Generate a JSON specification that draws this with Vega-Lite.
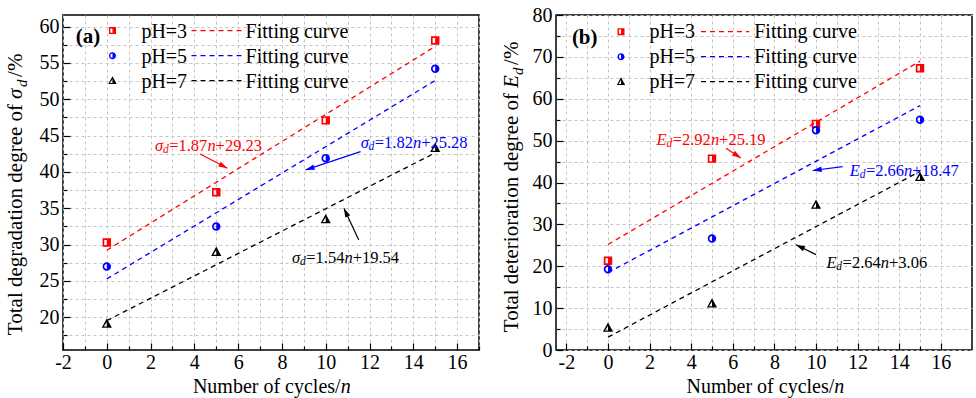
{
  "$schema": "https://vega.github.io/schema/vega-lite/v6.json",
  "padding": {"left": 4, "top": 4, "right": 0, "bottom": 0},
  "bounds": "flush",
  "spacing": 77,
  "config": {
    "font": "Liberation Serif",
    "view": {"stroke": "black", "strokeWidth": 1.5},
    "legend": {"disable": true},
    "axis": {
      "labelFont": "Liberation Serif",
      "labelFontSize": 20,
      "labelColor": "black",
      "tickColor": "black",
      "tickWidth": 1.2,
      "tickCount": 100,
      "gridColor": "#c4c4c4",
      "gridDash": [3, 3],
      "gridWidth": 1,
      "domain": false,
      "grid": true,
      "labelFlush": false,
      "labelOverlap": false
    }
  },
  "datasets": {
    "one": [{}],
    "pts": [
      {"panel": "a", "ph": "pH=3", "n": 0, "v": 30.3},
      {"panel": "a", "ph": "pH=3", "n": 5, "v": 37.2},
      {"panel": "a", "ph": "pH=3", "n": 10, "v": 47.1},
      {"panel": "a", "ph": "pH=3", "n": 15, "v": 58.1},
      {"panel": "a", "ph": "pH=5", "n": 0, "v": 27.0},
      {"panel": "a", "ph": "pH=5", "n": 5, "v": 32.5},
      {"panel": "a", "ph": "pH=5", "n": 10, "v": 41.9},
      {"panel": "a", "ph": "pH=5", "n": 15, "v": 54.2},
      {"panel": "a", "ph": "pH=7", "n": 0, "v": 19.1},
      {"panel": "a", "ph": "pH=7", "n": 5, "v": 29.0},
      {"panel": "a", "ph": "pH=7", "n": 10, "v": 33.5},
      {"panel": "a", "ph": "pH=7", "n": 15, "v": 43.3},
      {"panel": "b", "ph": "pH=3", "n": 0, "v": 21.3},
      {"panel": "b", "ph": "pH=3", "n": 5, "v": 45.7},
      {"panel": "b", "ph": "pH=3", "n": 10, "v": 54.0},
      {"panel": "b", "ph": "pH=3", "n": 15, "v": 67.3},
      {"panel": "b", "ph": "pH=5", "n": 0, "v": 19.3},
      {"panel": "b", "ph": "pH=5", "n": 5, "v": 26.6},
      {"panel": "b", "ph": "pH=5", "n": 10, "v": 52.5},
      {"panel": "b", "ph": "pH=5", "n": 15, "v": 55.0},
      {"panel": "b", "ph": "pH=7", "n": 0, "v": 5.3},
      {"panel": "b", "ph": "pH=7", "n": 5, "v": 11.1},
      {"panel": "b", "ph": "pH=7", "n": 10, "v": 34.7},
      {"panel": "b", "ph": "pH=7", "n": 15, "v": 41.3}
    ],
    "fit": [
      {"panel": "a", "ph": "pH=3", "n": 0, "v": 29.23},
      {"panel": "a", "ph": "pH=3", "n": 15, "v": 57.28},
      {"panel": "a", "ph": "pH=5", "n": 0, "v": 25.28},
      {"panel": "a", "ph": "pH=5", "n": 15, "v": 52.58},
      {"panel": "a", "ph": "pH=7", "n": 0, "v": 19.54},
      {"panel": "a", "ph": "pH=7", "n": 15, "v": 42.64},
      {"panel": "b", "ph": "pH=3", "n": 0, "v": 25.19},
      {"panel": "b", "ph": "pH=3", "n": 15, "v": 68.99},
      {"panel": "b", "ph": "pH=5", "n": 0, "v": 18.47},
      {"panel": "b", "ph": "pH=5", "n": 15, "v": 58.37},
      {"panel": "b", "ph": "pH=7", "n": 0, "v": 3.06},
      {"panel": "b", "ph": "pH=7", "n": 15, "v": 42.66}
    ],
    "ann": [
      {"panel": "a", "ph": "pH=3", "sym": "σ", "eq": "=1.87", "rest": "+29.23", "x": 2.85, "y": 43.51},
      {"panel": "a", "ph": "pH=5", "sym": "σ", "eq": "=1.82", "rest": "+25.28", "x": 12.24, "y": 43.95},
      {"panel": "a", "ph": "pH=7", "sym": "σ", "eq": "=1.54", "rest": "+19.54", "x": 9.11, "y": 28.16},
      {"panel": "b", "ph": "pH=3", "sym": "E", "eq": "=2.92", "rest": "+25.19", "x": 3.11, "y": 50.19},
      {"panel": "b", "ph": "pH=5", "sym": "E", "eq": "=2.66", "rest": "+18.47", "x": 12.4, "y": 42.63},
      {"panel": "b", "ph": "pH=7", "sym": "E", "eq": "=2.64", "rest": "+3.06", "x": 11.28, "y": 20.79}
    ],
    "arr": [
      {"panel": "a", "ph": "pH=3", "x": 4.26, "y": 42.48, "x2": 5.51, "y2": 40.51},
      {"panel": "a", "ph": "pH=5", "x": 11.59, "y": 42.79, "x2": 9.08, "y2": 40.28},
      {"panel": "a", "ph": "pH=7", "x": 11.51, "y": 30.64, "x2": 10.83, "y2": 35.0},
      {"panel": "b", "ph": "pH=3", "x": 5.67, "y": 48.2, "x2": 6.39, "y2": 45.83},
      {"panel": "b", "ph": "pH=5", "x": 11.28, "y": 43.8, "x2": 9.84, "y2": 42.87},
      {"panel": "b", "ph": "pH=7", "x": 10.0, "y": 22.77, "x2": 9.04, "y2": 25.15}
    ]
  },
  "hconcat": [
    {
      "width": 416,
      "height": 335,
      "layer": [
        {
          "data": {"name": "fit"},
          "transform": [{"filter": "datum.panel === 'a'"}],
          "mark": {"type": "line", "strokeDash": [5, 4], "strokeWidth": 1.3},
          "encoding": {
            "x": {"field": "n", "type": "quantitative",
              "scale": {"domain": [-2, 17], "nice": false, "zero": false},
              "axis": {"title": null, "tickCount": 100,
                "values": [-2, -1, 0, 1, 2, 3, 4, 5, 6, 7, 8, 9, 10, 11, 12, 13, 14, 15, 16, 17],
                "labelExpr": "datum.value % 2 === 0 ? (datum.value < 0 ? '-' + abs(datum.value) : format(datum.value, 'd')) : ''",
                "tickSize": {"condition": {"test": "datum.value % 2 === 0", "value": -7}, "value": -4},
                "labelPadding": 9}},
            "y": {"field": "v", "type": "quantitative",
              "scale": {"domain": [15.5, 61.6], "nice": false, "zero": false},
              "axis": {"title": null, "tickCount": 100,
                "values": [17.5, 20, 22.5, 25, 27.5, 30, 32.5, 35, 37.5, 40, 42.5, 45, 47.5, 50, 52.5, 55, 57.5, 60],
                "labelExpr": "abs(datum.value % 5) < 0.01 ? format(datum.value, 'd') : ''",
                "tickSize": {"condition": {"test": "abs(datum.value % 5) < 0.01", "value": -7}, "value": -4},
                "labelPadding": 11}},
            "color": {"field": "ph", "type": "nominal",
              "scale": {"domain": ["pH=3", "pH=5", "pH=7"], "range": ["#ff0000", "#0000ff", "#000000"]}}
          }
        },
        {
          "data": {"name": "pts"},
          "transform": [{"filter": "datum.panel === 'a'"}],
          "mark": {"type": "point", "filled": true, "opacity": 1, "size": 72, "strokeWidth": 0},
          "encoding": {
            "x": {"field": "n", "type": "quantitative"},
            "y": {"field": "v", "type": "quantitative"},
            "color": {"field": "ph", "type": "nominal"},
            "shape": {"field": "ph", "type": "nominal",
              "scale": {"domain": ["pH=3", "pH=5", "pH=7"],
                "range": ["M-1,-1H1V1H-1Z M-0.6,-0.6V0.6H0V-0.6Z",
                  "M1,0A1,1,0,1,1,-1,0A1,1,0,1,1,1,0Z M0,-0.6A0.6,0.6,0,0,0,0,0.6Z",
                  "M0,-1.25L1.2,0.95L-1.2,0.95Z M0,-0.45L-0.7,0.65L0,0.65Z"]}}
          }
        },
        {
          "data": {"name": "arr"},
          "transform": [{"filter": "datum.panel === 'a'"}],
          "mark": {"type": "rule", "strokeWidth": 1.2},
          "encoding": {
            "x": {"field": "x", "type": "quantitative"},
            "y": {"field": "y", "type": "quantitative"},
            "x2": {"field": "x2"},
            "y2": {"field": "y2"},
            "color": {"field": "ph", "type": "nominal"}
          }
        },
        {
          "data": {"name": "one"},
          "mark": {"type": "point", "shape": "M0,0L-3.6,-1.1L-3.6,1.1Z", "filled": true, "opacity": 1, "size": 25, "strokeWidth": 0, "angle": 27.6, "color": "#ff0000"},
          "encoding": {"x": {"datum": 5.51}, "y": {"datum": 40.51}}
        },
        {
          "data": {"name": "one"},
          "mark": {"type": "point", "shape": "M0,0L-3.6,-1.1L-3.6,1.1Z", "filled": true, "opacity": 1, "size": 25, "strokeWidth": 0, "angle": 161.6, "color": "#0000ff"},
          "encoding": {"x": {"datum": 9.08}, "y": {"datum": 40.28}}
        },
        {
          "data": {"name": "one"},
          "mark": {"type": "point", "shape": "M0,0L-3.6,-1.1L-3.6,1.1Z", "filled": true, "opacity": 1, "size": 25, "strokeWidth": 0, "angle": 244.7, "color": "#000000"},
          "encoding": {"x": {"datum": 10.83}, "y": {"datum": 35.0}}
        },
        {
          "data": {"name": "ann"},
          "transform": [{"filter": "datum.panel === 'a'"}],
          "mark": {"type": "text", "align": "right", "dx": -6, "fontSize": 16.5, "fontStyle": "italic"},
          "encoding": {
            "x": {"field": "x", "type": "quantitative"},
            "y": {"field": "y", "type": "quantitative"},
            "text": {"field": "sym"},
            "color": {"field": "ph", "type": "nominal"}
          }
        },
        {
          "data": {"name": "ann"},
          "transform": [{"filter": "datum.panel === 'a'"}],
          "mark": {"type": "text", "align": "right", "dx": -0.5, "dy": 4, "fontSize": 11.5, "fontStyle": "italic"},
          "encoding": {
            "x": {"field": "x", "type": "quantitative"},
            "y": {"field": "y", "type": "quantitative"},
            "text": {"value": "d"},
            "color": {"field": "ph", "type": "nominal"}
          }
        },
        {
          "data": {"name": "ann"},
          "transform": [{"filter": "datum.panel === 'a'"}],
          "mark": {"type": "text", "align": "left", "fontSize": 16.5},
          "encoding": {
            "x": {"field": "x", "type": "quantitative"},
            "y": {"field": "y", "type": "quantitative"},
            "text": {"field": "eq"},
            "color": {"field": "ph", "type": "nominal"}
          }
        },
        {
          "data": {"name": "ann"},
          "transform": [{"filter": "datum.panel === 'a'"}],
          "mark": {"type": "text", "align": "left", "dx": 38.2, "fontSize": 16.5, "fontStyle": "italic"},
          "encoding": {
            "x": {"field": "x", "type": "quantitative"},
            "y": {"field": "y", "type": "quantitative"},
            "text": {"value": "n"},
            "color": {"field": "ph", "type": "nominal"}
          }
        },
        {
          "data": {"name": "ann"},
          "transform": [{"filter": "datum.panel === 'a'"}],
          "mark": {"type": "text", "align": "left", "dx": 46.4, "fontSize": 16.5},
          "encoding": {
            "x": {"field": "x", "type": "quantitative"},
            "y": {"field": "y", "type": "quantitative"},
            "text": {"field": "rest"},
            "color": {"field": "ph", "type": "nominal"}
          }
        },
        {
          "data": {"name": "one"},
          "mark": {"type": "text", "align": "center", "fontSize": 21, "fontWeight": "bold", "color": "black"},
          "encoding": {"x": {"datum": -0.86}, "y": {"datum": 58.58}, "text": {"value": "(a)"}}
        },
        {
          "data": {"name": "one"},
          "mark": {"type": "point", "shape": "M-1,-1H1V1H-1Z M-0.6,-0.6V0.6H0V-0.6Z", "filled": true, "opacity": 1, "size": 49, "strokeWidth": 0, "color": "#ff0000"},
          "encoding": {"x": {"datum": 0.26}, "y": {"datum": 59.45}}
        },
        {
          "data": {"name": "one"},
          "mark": {"type": "point", "shape": "M1,0A1,1,0,1,1,-1,0A1,1,0,1,1,1,0Z M0,-0.6A0.6,0.6,0,0,0,0,0.6Z", "filled": true, "opacity": 1, "size": 49, "strokeWidth": 0, "color": "#0000ff"},
          "encoding": {"x": {"datum": 0.26}, "y": {"datum": 56.0}}
        },
        {
          "data": {"name": "one"},
          "mark": {"type": "point", "shape": "M0,-1.25L1.2,0.95L-1.2,0.95Z M0,-0.45L-0.7,0.65L0,0.65Z", "filled": true, "opacity": 1, "size": 49, "strokeWidth": 0, "color": "#000000"},
          "encoding": {"x": {"datum": 0.26}, "y": {"datum": 52.57}}
        },
        {
          "data": {"name": "one"},
          "mark": {"type": "text", "align": "left", "baseline": "alphabetic", "fontSize": 20, "lineHeight": 25, "color": "black"},
          "encoding": {"x": {"datum": 1.58}, "y": {"datum": 58.49}, "text": {"value": ["pH=3", "pH=5", "pH=7"]}}
        },
        {
          "data": {"name": "one"},
          "mark": {"type": "rule", "strokeDash": [5, 4], "strokeWidth": 1.3, "color": "#ff0000"},
          "encoding": {"x": {"datum": 3.87}, "x2": {"datum": 6.2}, "y": {"datum": 59.45}}
        },
        {
          "data": {"name": "one"},
          "mark": {"type": "rule", "strokeDash": [5, 4], "strokeWidth": 1.3, "color": "#0000ff"},
          "encoding": {"x": {"datum": 3.87}, "x2": {"datum": 6.2}, "y": {"datum": 56.0}}
        },
        {
          "data": {"name": "one"},
          "mark": {"type": "rule", "strokeDash": [5, 4], "strokeWidth": 1.3, "color": "#000000"},
          "encoding": {"x": {"datum": 3.87}, "x2": {"datum": 6.2}, "y": {"datum": 52.57}}
        },
        {
          "data": {"name": "one"},
          "mark": {"type": "text", "align": "left", "baseline": "alphabetic", "fontSize": 20, "lineHeight": 25, "color": "black"},
          "encoding": {"x": {"datum": 6.34}, "y": {"datum": 58.49}, "text": {"value": ["Fitting curve", "Fitting curve", "Fitting curve"]}}
        },
        {
          "data": {"name": "one"},
          "mark": {"type": "text", "align": "right", "baseline": "alphabetic", "fontSize": 20, "color": "black"},
          "encoding": {"x": {"datum": 10.68}, "y": {"datum": 9.58}, "text": {"value": "Number of cycles/"}}
        },
        {
          "data": {"name": "one"},
          "mark": {"type": "text", "align": "left", "baseline": "alphabetic", "fontSize": 20, "fontStyle": "italic", "color": "black"},
          "encoding": {"x": {"datum": 10.68}, "y": {"datum": 9.58}, "text": {"value": "n"}}
        },
        {
          "data": {"name": "one"},
          "mark": {"type": "text", "angle": 270, "align": "right", "baseline": "alphabetic", "fontSize": 21, "color": "black"},
          "encoding": {"x": {"datum": -3.85}, "y": {"datum": 49.36}, "text": {"value": "Total degradation degree of"}}
        },
        {
          "data": {"name": "one"},
          "mark": {"type": "text", "angle": 270, "align": "left", "baseline": "alphabetic", "dx": 5, "fontSize": 21, "fontStyle": "italic", "color": "black"},
          "encoding": {"x": {"datum": -3.85}, "y": {"datum": 49.36}, "text": {"value": "σ"}}
        },
        {
          "data": {"name": "one"},
          "mark": {"type": "text", "angle": 270, "align": "left", "baseline": "alphabetic", "dx": 17, "dy": 5, "fontSize": 15, "fontStyle": "italic", "color": "black"},
          "encoding": {"x": {"datum": -3.85}, "y": {"datum": 49.36}, "text": {"value": "d"}}
        },
        {
          "data": {"name": "one"},
          "mark": {"type": "text", "angle": 270, "align": "left", "baseline": "alphabetic", "dx": 27, "fontSize": 21, "color": "black"},
          "encoding": {"x": {"datum": -3.85}, "y": {"datum": 49.36}, "text": {"value": "/%"}}
        }
      ]
    },
    {
      "width": 416,
      "height": 335,
      "layer": [
        {
          "data": {"name": "fit"},
          "transform": [{"filter": "datum.panel === 'b'"}],
          "mark": {"type": "line", "strokeDash": [5, 4], "strokeWidth": 1.3},
          "encoding": {
            "x": {"field": "n", "type": "quantitative",
              "scale": {"domain": [-2.5, 17.5], "nice": false, "zero": false},
              "axis": {"title": null, "tickCount": 100,
                "values": [-2, -1, 0, 1, 2, 3, 4, 5, 6, 7, 8, 9, 10, 11, 12, 13, 14, 15, 16],
                "labelExpr": "datum.value % 2 === 0 ? (datum.value < 0 ? '-' + abs(datum.value) : format(datum.value, 'd')) : ''",
                "tickSize": {"condition": {"test": "datum.value % 2 === 0", "value": -7}, "value": -4},
                "labelPadding": 9}},
            "y": {"field": "v", "type": "quantitative",
              "scale": {"domain": [0, 80], "nice": false, "zero": false},
              "axis": {"title": null, "tickCount": 100,
                "values": [0, 5, 10, 15, 20, 25, 30, 35, 40, 45, 50, 55, 60, 65, 70, 75, 80],
                "labelExpr": "datum.value % 10 === 0 ? format(datum.value, 'd') : ''",
                "tickSize": {"condition": {"test": "datum.value % 10 === 0", "value": -7}, "value": -4},
                "labelPadding": 11}},
            "color": {"field": "ph", "type": "nominal",
              "scale": {"domain": ["pH=3", "pH=5", "pH=7"], "range": ["#ff0000", "#0000ff", "#000000"]}}
          }
        },
        {
          "data": {"name": "pts"},
          "transform": [{"filter": "datum.panel === 'b'"}],
          "mark": {"type": "point", "filled": true, "opacity": 1, "size": 72, "strokeWidth": 0},
          "encoding": {
            "x": {"field": "n", "type": "quantitative"},
            "y": {"field": "v", "type": "quantitative"},
            "color": {"field": "ph", "type": "nominal"},
            "shape": {"field": "ph", "type": "nominal",
              "scale": {"domain": ["pH=3", "pH=5", "pH=7"],
                "range": ["M-1,-1H1V1H-1Z M-0.6,-0.6V0.6H0V-0.6Z",
                  "M1,0A1,1,0,1,1,-1,0A1,1,0,1,1,1,0Z M0,-0.6A0.6,0.6,0,0,0,0,0.6Z",
                  "M0,-1.25L1.2,0.95L-1.2,0.95Z M0,-0.45L-0.7,0.65L0,0.65Z"]}}
          }
        },
        {
          "data": {"name": "arr"},
          "transform": [{"filter": "datum.panel === 'b'"}],
          "mark": {"type": "rule", "strokeWidth": 1.2},
          "encoding": {
            "x": {"field": "x", "type": "quantitative"},
            "y": {"field": "y", "type": "quantitative"},
            "x2": {"field": "x2"},
            "y2": {"field": "y2"},
            "color": {"field": "ph", "type": "nominal"}
          }
        },
        {
          "data": {"name": "one"},
          "mark": {"type": "point", "shape": "M0,0L-3.6,-1.1L-3.6,1.1Z", "filled": true, "opacity": 1, "size": 25, "strokeWidth": 0, "angle": 33.7, "color": "#ff0000"},
          "encoding": {"x": {"datum": 6.39}, "y": {"datum": 45.83}}
        },
        {
          "data": {"name": "one"},
          "mark": {"type": "point", "shape": "M0,0L-3.6,-1.1L-3.6,1.1Z", "filled": true, "opacity": 1, "size": 25, "strokeWidth": 0, "angle": 172.4, "color": "#0000ff"},
          "encoding": {"x": {"datum": 9.84}, "y": {"datum": 42.87}}
        },
        {
          "data": {"name": "one"},
          "mark": {"type": "point", "shape": "M0,0L-3.6,-1.1L-3.6,1.1Z", "filled": true, "opacity": 1, "size": 25, "strokeWidth": 0, "angle": 206.6, "color": "#000000"},
          "encoding": {"x": {"datum": 9.04}, "y": {"datum": 25.15}}
        },
        {
          "data": {"name": "ann"},
          "transform": [{"filter": "datum.panel === 'b'"}],
          "mark": {"type": "text", "align": "right", "dx": -6, "fontSize": 16.5, "fontStyle": "italic"},
          "encoding": {
            "x": {"field": "x", "type": "quantitative"},
            "y": {"field": "y", "type": "quantitative"},
            "text": {"field": "sym"},
            "color": {"field": "ph", "type": "nominal"}
          }
        },
        {
          "data": {"name": "ann"},
          "transform": [{"filter": "datum.panel === 'b'"}],
          "mark": {"type": "text", "align": "right", "dx": -0.5, "dy": 4, "fontSize": 11.5, "fontStyle": "italic"},
          "encoding": {
            "x": {"field": "x", "type": "quantitative"},
            "y": {"field": "y", "type": "quantitative"},
            "text": {"value": "d"},
            "color": {"field": "ph", "type": "nominal"}
          }
        },
        {
          "data": {"name": "ann"},
          "transform": [{"filter": "datum.panel === 'b'"}],
          "mark": {"type": "text", "align": "left", "fontSize": 16.5},
          "encoding": {
            "x": {"field": "x", "type": "quantitative"},
            "y": {"field": "y", "type": "quantitative"},
            "text": {"field": "eq"},
            "color": {"field": "ph", "type": "nominal"}
          }
        },
        {
          "data": {"name": "ann"},
          "transform": [{"filter": "datum.panel === 'b'"}],
          "mark": {"type": "text", "align": "left", "dx": 38.2, "fontSize": 16.5, "fontStyle": "italic"},
          "encoding": {
            "x": {"field": "x", "type": "quantitative"},
            "y": {"field": "y", "type": "quantitative"},
            "text": {"value": "n"},
            "color": {"field": "ph", "type": "nominal"}
          }
        },
        {
          "data": {"name": "ann"},
          "transform": [{"filter": "datum.panel === 'b'"}],
          "mark": {"type": "text", "align": "left", "dx": 46.4, "fontSize": 16.5},
          "encoding": {
            "x": {"field": "x", "type": "quantitative"},
            "y": {"field": "y", "type": "quantitative"},
            "text": {"field": "rest"},
            "color": {"field": "ph", "type": "nominal"}
          }
        },
        {
          "data": {"name": "one"},
          "mark": {"type": "text", "align": "center", "fontSize": 21, "fontWeight": "bold", "color": "black"},
          "encoding": {"x": {"datum": -1.12}, "y": {"datum": 74.5}, "text": {"value": "(b)"}}
        },
        {
          "data": {"name": "one"},
          "mark": {"type": "point", "shape": "M-1,-1H1V1H-1Z M-0.6,-0.6V0.6H0V-0.6Z", "filled": true, "opacity": 1, "size": 49, "strokeWidth": 0, "color": "#ff0000"},
          "encoding": {"x": {"datum": 0.625}, "y": {"datum": 76.01}}
        },
        {
          "data": {"name": "one"},
          "mark": {"type": "point", "shape": "M1,0A1,1,0,1,1,-1,0A1,1,0,1,1,1,0Z M0,-0.6A0.6,0.6,0,0,0,0,0.6Z", "filled": true, "opacity": 1, "size": 49, "strokeWidth": 0, "color": "#0000ff"},
          "encoding": {"x": {"datum": 0.625}, "y": {"datum": 70.05}}
        },
        {
          "data": {"name": "one"},
          "mark": {"type": "point", "shape": "M0,-1.25L1.2,0.95L-1.2,0.95Z M0,-0.45L-0.7,0.65L0,0.65Z", "filled": true, "opacity": 1, "size": 49, "strokeWidth": 0, "color": "#000000"},
          "encoding": {"x": {"datum": 0.625}, "y": {"datum": 64.09}}
        },
        {
          "data": {"name": "one"},
          "mark": {"type": "text", "align": "left", "baseline": "alphabetic", "fontSize": 20, "lineHeight": 25, "color": "black"},
          "encoding": {"x": {"datum": 1.99}, "y": {"datum": 74.39}, "text": {"value": ["pH=3", "pH=5", "pH=7"]}}
        },
        {
          "data": {"name": "one"},
          "mark": {"type": "rule", "strokeDash": [5, 4], "strokeWidth": 1.3, "color": "#ff0000"},
          "encoding": {"x": {"datum": 4.47}, "x2": {"datum": 6.79}, "y": {"datum": 76.01}}
        },
        {
          "data": {"name": "one"},
          "mark": {"type": "rule", "strokeDash": [5, 4], "strokeWidth": 1.3, "color": "#0000ff"},
          "encoding": {"x": {"datum": 4.47}, "x2": {"datum": 6.79}, "y": {"datum": 70.05}}
        },
        {
          "data": {"name": "one"},
          "mark": {"type": "rule", "strokeDash": [5, 4], "strokeWidth": 1.3, "color": "#000000"},
          "encoding": {"x": {"datum": 4.47}, "x2": {"datum": 6.79}, "y": {"datum": 64.09}}
        },
        {
          "data": {"name": "one"},
          "mark": {"type": "text", "align": "left", "baseline": "alphabetic", "fontSize": 20, "lineHeight": 25, "color": "black"},
          "encoding": {"x": {"datum": 7.03}, "y": {"datum": 74.39}, "text": {"value": ["Fitting curve", "Fitting curve", "Fitting curve"]}}
        },
        {
          "data": {"name": "one"},
          "mark": {"type": "text", "align": "right", "baseline": "alphabetic", "fontSize": 20, "color": "black"},
          "encoding": {"x": {"datum": 10.88}, "y": {"datum": -10.2}, "text": {"value": "Number of cycles/"}}
        },
        {
          "data": {"name": "one"},
          "mark": {"type": "text", "align": "left", "baseline": "alphabetic", "fontSize": 20, "fontStyle": "italic", "color": "black"},
          "encoding": {"x": {"datum": 10.88}, "y": {"datum": -10.2}, "text": {"value": "n"}}
        },
        {
          "data": {"name": "one"},
          "mark": {"type": "text", "angle": 270, "align": "right", "baseline": "alphabetic", "fontSize": 21, "color": "black"},
          "encoding": {"x": {"datum": -4.35}, "y": {"datum": 61.4}, "text": {"value": "Total deterioration degree of"}}
        },
        {
          "data": {"name": "one"},
          "mark": {"type": "text", "angle": 270, "align": "left", "baseline": "alphabetic", "dx": 5, "fontSize": 21, "fontStyle": "italic", "color": "black"},
          "encoding": {"x": {"datum": -4.35}, "y": {"datum": 61.4}, "text": {"value": "E"}}
        },
        {
          "data": {"name": "one"},
          "mark": {"type": "text", "angle": 270, "align": "left", "baseline": "alphabetic", "dx": 18, "dy": 5, "fontSize": 15, "fontStyle": "italic", "color": "black"},
          "encoding": {"x": {"datum": -4.35}, "y": {"datum": 61.4}, "text": {"value": "d"}}
        },
        {
          "data": {"name": "one"},
          "mark": {"type": "text", "angle": 270, "align": "left", "baseline": "alphabetic", "dx": 28, "fontSize": 21, "color": "black"},
          "encoding": {"x": {"datum": -4.35}, "y": {"datum": 61.4}, "text": {"value": "/%"}}
        }
      ]
    }
  ]
}
